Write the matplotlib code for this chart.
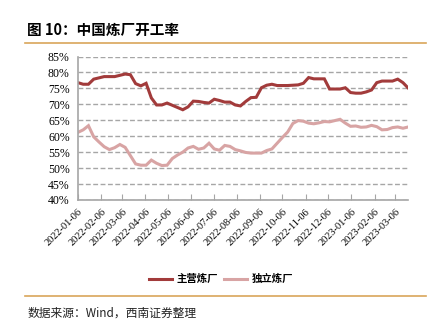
#!/usr/bin/env python3
"""China refinery utilisation: major vs independent refineries, weekly."""
import matplotlib
matplotlib.use('Agg')
import matplotlib.pyplot as plt
import matplotlib.dates as mdates
from matplotlib.lines import Line2D
import pandas as pd

# serif numbers on the axes, CJK sans for the Chinese text
plt.rcParams['font.family'] = ['Liberation Serif', 'Noto Sans CJK SC']
cjk = ['Noto Sans CJK SC', 'DejaVu Sans']

# weekly readings, %
start_date = '2022-01-06'
n_weeks = 64
major = [76.8, 76.3, 76.3, 77.9, 78.3, 78.7, 78.7, 78.7, 79.1, 79.5,
         79.3, 76.5, 75.8, 76.6, 72.0, 69.8, 69.8, 70.4, 69.7, 69.0,
         68.3, 69.2, 71.0, 70.9, 70.6, 70.4, 71.6, 71.2, 70.7, 70.7,
         69.8, 69.5, 70.9, 72.1, 72.2, 75.2, 76.0, 76.3, 75.9, 75.9,
         75.9, 76.0, 76.1, 76.6, 78.4, 78.0, 78.0, 78.0, 74.8, 74.8,
         74.8, 75.2, 73.7, 73.5, 73.5, 73.9, 74.5, 76.8, 77.3, 77.3,
         77.3, 77.9, 76.8, 75.1]
independent = [61.2, 62.0, 63.3, 59.8, 58.2, 56.7, 55.8, 56.4, 57.4, 56.5,
               53.9, 51.3, 50.9, 50.9, 52.5, 51.5, 50.8, 50.9, 53.0, 54.1,
               55.0, 56.3, 56.8, 55.9, 56.3, 57.8, 56.0, 55.6, 57.1, 56.8,
               55.8, 55.4, 54.9, 54.7, 54.7, 54.7, 55.5, 56.0, 57.8, 59.6,
               61.3, 64.0, 64.9, 64.7, 64.1, 63.9, 64.2, 64.6, 64.5, 64.9,
               65.3, 64.1, 63.1, 63.2, 62.8, 62.9, 63.4, 63.0, 62.0, 62.1,
               62.7, 62.9, 62.5, 62.9]
series_names = ['主营炼厂', '独立炼厂']
y_ticks = [40, 45, 50, 55, 60, 65, 70, 75, 80, 85]

title = '图 10：中国炼厂开工率'
source = '数据来源：Wind，西南证券整理'

dates = pd.date_range(start_date, periods=n_weeks, freq='7D')
month_ticks = pd.date_range(start_date, '2023-03-06', freq=pd.DateOffset(months=1))

c_major = '#A23B3B'
c_indep = '#D8A4A4'
c_rule = '#D9A55A'
c_grid = '#A6A6A6'

fig = plt.figure(figsize=(4.38, 3.23), dpi=100)
ax = fig.add_axes([0.178, 0.381, 0.754, 0.444])

ax.plot(dates, major, color=c_major, lw=2.2, solid_joinstyle='miter')
ax.plot(dates, independent, color=c_indep, lw=2.2, solid_joinstyle='miter')

ax.set_xlim(dates[0], dates[-1])
ax.set_ylim(40, 85)
ax.set_yticks(y_ticks)
ax.set_yticklabels([f'{v}%' for v in y_ticks])
ax.yaxis.grid(True, color=c_grid, ls=(0, (3.5, 1.8)), lw=1.0)
ax.set_axisbelow(True)

ax.set_xticks(month_ticks)
ax.xaxis.set_major_formatter(mdates.DateFormatter('%Y-%m-%d'))
ax.tick_params(axis='x', direction='in', length=4, color=c_grid, pad=5,
               labelrotation=45, labelsize=7.5)
ax.tick_params(axis='y', length=0, pad=6, labelsize=8.5)
for lbl in ax.get_xticklabels():
    lbl.set_ha('right')
    lbl.set_rotation_mode('anchor')

for side in ('top', 'right'):
    ax.spines[side].set_visible(False)
for side in ('left', 'bottom'):
    ax.spines[side].set_color(c_grid)
    ax.spines[side].set_linewidth(1.2)

handles = [Line2D([], [], color=c_major, lw=2.2),
           Line2D([], [], color=c_indep, lw=2.2)]
fig.legend(handles, series_names, loc='center', bbox_to_anchor=(0.505, 0.136),
           ncol=2, frameon=False, handlelength=2.2, handletextpad=0.4,
           columnspacing=0.6, prop={'family': cjk, 'size': 7.5, 'weight': 'bold'})

# header and footer
fig.text(0.062, 0.907, title, family=cjk, fontsize=10.5, fontweight='bold',
         va='center')
fig.add_artist(Line2D([0.057, 0.973], [0.867, 0.867], color=c_rule, lw=1.2))
fig.add_artist(Line2D([0.057, 0.973], [0.084, 0.084], color=c_rule, lw=1.2))
fig.text(0.062, 0.032, source, family=cjk, fontsize=8.5, style='italic',
         va='center', color='#222222')

fig.savefig('out.png', dpi=100)
